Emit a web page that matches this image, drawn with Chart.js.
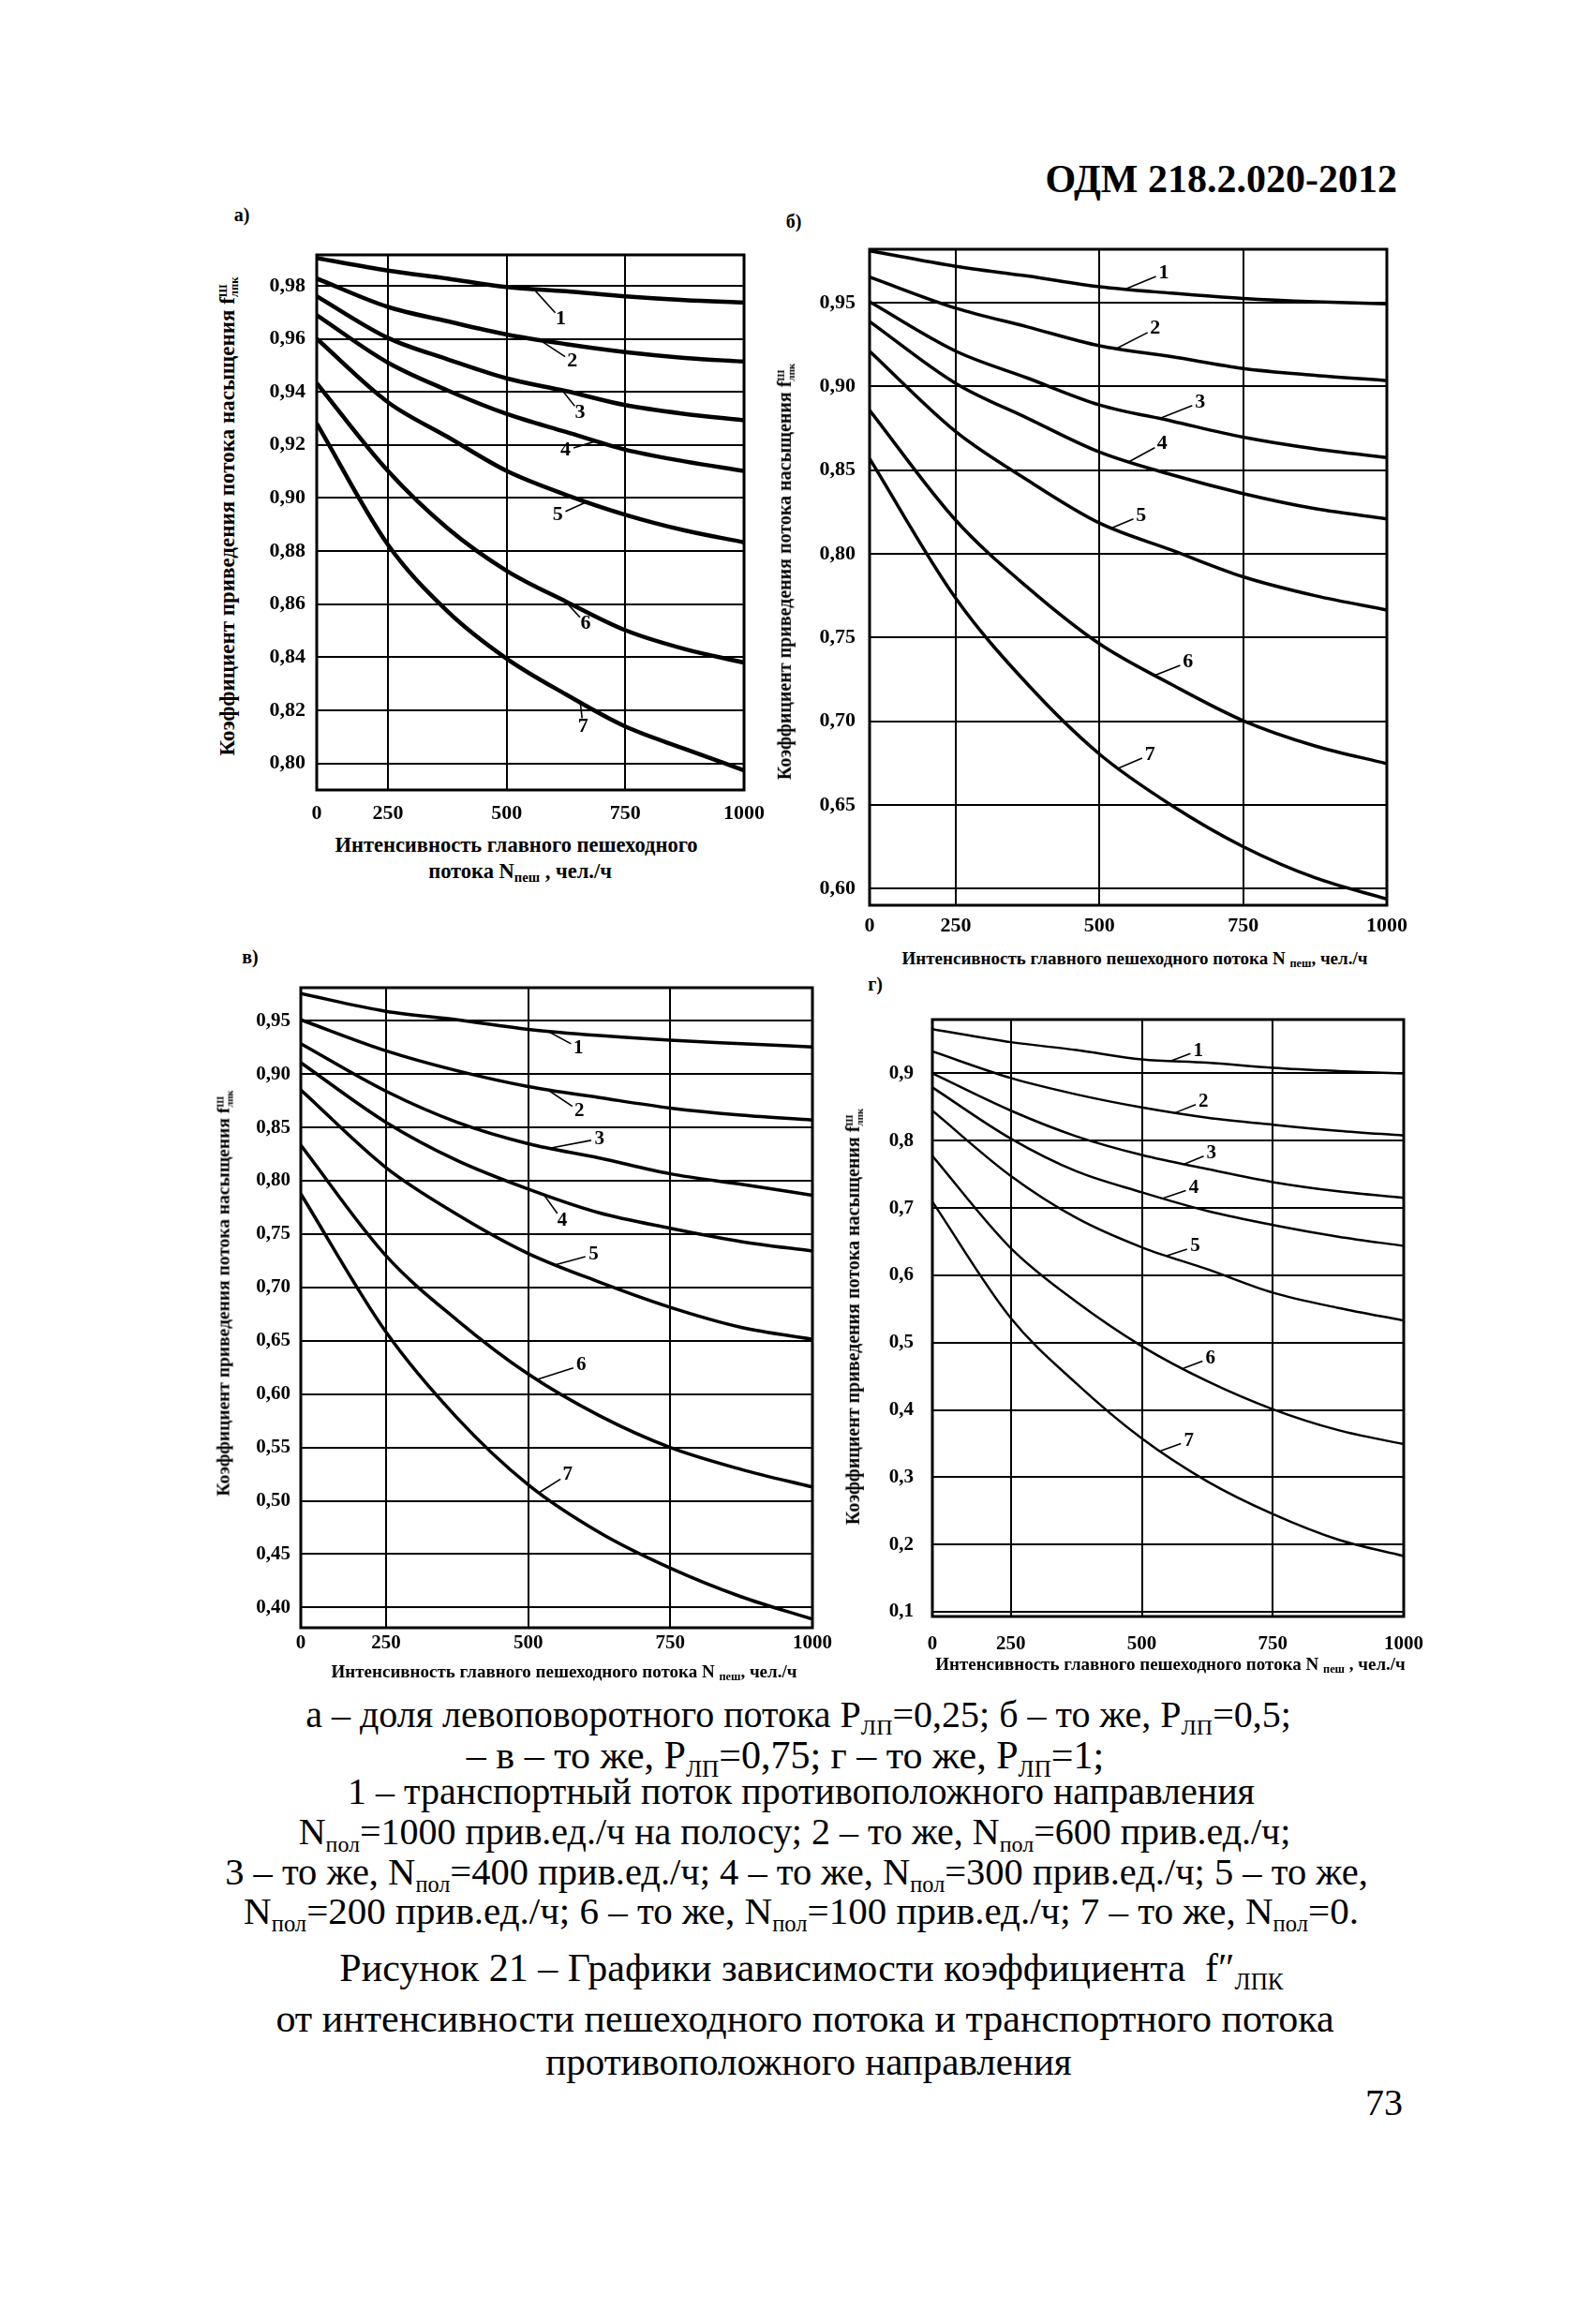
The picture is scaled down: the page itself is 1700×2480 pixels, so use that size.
<!DOCTYPE html>
<html>
<head>
<meta charset="utf-8">
<script src="https://cdn.jsdelivr.net/npm/chart.js@4.4.1/dist/chart.umd.min.js"></script>
<style>
  body { margin: 0; background: #fff; width: 1700px; height: 2480px; position: relative; color: #000; font-family: "Liberation Serif", serif; }
  .box { position: absolute; }
  .t { position: absolute; white-space: nowrap; line-height: 1; transform: translate(-50%, -50%); }
  .b { font-weight: bold; }
  .rot { transform: translate(-50%, -50%) rotate(-90deg); }
  .cap { font-size: 40px; }
  .cap sub { font-size: 0.6em; vertical-align: -0.35em; line-height: 0; }
  .ax sub { font-size: 0.65em; vertical-align: -0.3em; line-height: 0; }
  .fs { display: inline-block; vertical-align: -0.35em; font-size: 0.55em; line-height: 0.95; text-align: left; }
</style>
</head>
<body>

<div class="t b" style="left:1491px;top:191px;font-size:42px;transform:translate(-100%,-50%)">ОДМ 218.2.020-2012</div>

<div class="t b" style="left:258px;top:229px;font-size:20px">а)</div>
<div class="t b" style="left:847px;top:236px;font-size:20px">б)</div>
<div class="t b" style="left:267px;top:1021px;font-size:20px">в)</div>
<div class="t b" style="left:934px;top:1050px;font-size:20px">г)</div>

<div class="box" id="wa"><canvas id="ca"></canvas></div>
<div class="box" id="wb"><canvas id="cb"></canvas></div>
<div class="box" id="wc"><canvas id="cc"></canvas></div>
<div class="box" id="wd"><canvas id="cd"></canvas></div>

<div class="t b ax rot" style="left:244px;top:551px;font-size:23px">Коэффициент приведения потока насыщения f<span class="fs">Ш<br>лпк</span></div>
<div class="t b ax rot" style="left:838px;top:610px;font-size:20px">Коэффициент приведения потока насыщения f<span class="fs">Ш<br>лпк</span></div>
<div class="t b ax rot" style="left:239px;top:1380px;font-size:19.5px">Коэффициент приведения потока насыщения f<span class="fs">Ш<br>лпк</span></div>
<div class="t b ax rot" style="left:911px;top:1405px;font-size:20px">Коэффициент приведения потока насыщения f<span class="fs">Ш<br>лпк</span></div>

<div class="t b ax" style="left:551px;top:902px;font-size:22.5px">Интенсивность главного пешеходного</div>
<div class="t b ax" style="left:555px;top:930px;font-size:22.5px">потока N<sub>пеш</sub> , чел./ч</div>
<div class="t b ax" style="left:1211px;top:1022px;font-size:19px">Интенсивность главного пешеходного потока N <sub>пеш</sub>, чел./ч</div>
<div class="t b ax" style="left:602px;top:1783px;font-size:19px">Интенсивность главного пешеходного потока N <sub>пеш</sub>, чел./ч</div>
<div class="t b ax" style="left:1249px;top:1775px;font-size:19px">Интенсивность главного пешеходного потока N <sub>пеш</sub> , чел./ч</div>

<div class="t cap" style="left:852px;top:1830px">а – доля левоповоротного потока P<sub>ЛП</sub>=0,25; б – то же, P<sub>ЛП</sub>=0,5;</div>
<div class="t cap" style="left:838px;top:1873px;font-size:42px">– в – то же, P<sub>ЛП</sub>=0,75; г – то же, P<sub>ЛП</sub>=1;</div>
<div class="t cap" style="left:855px;top:1912px">1 – транспортный поток противоположного направления</div>
<div class="t cap" style="left:848px;top:1955px">N<sub>пол</sub>=1000 прив.ед./ч на полосу; 2 – то же, N<sub>пол</sub>=600 прив.ед./ч;</div>
<div class="t cap" style="left:850px;top:1998px;font-size:40.5px">3 – то же, N<sub>пол</sub>=400 прив.ед./ч; 4 – то же, N<sub>пол</sub>=300 прив.ед./ч; 5 – то же,</div>
<div class="t cap" style="left:855px;top:2039px;font-size:41px">N<sub>пол</sub>=200 прив.ед./ч; 6 – то же, N<sub>пол</sub>=100 прив.ед./ч; 7 – то же, N<sub>пол</sub>=0.</div>
<div class="t cap" style="left:866px;top:2100px;font-size:42px">Рисунок 21 – Графики зависимости коэффициента&nbsp; f″<sub>ЛПК</sub></div>
<div class="t cap" style="left:859px;top:2154px;font-size:42px">от интенсивности пешеходного потока и транспортного потока</div>
<div class="t cap" style="left:863px;top:2200px;font-size:41px">противоположного направления</div>
<div class="t cap" style="left:1497px;top:2244px;transform:translate(-100%,-50%)">73</div>

<script>
// pedestrian flow N пеш, чел./ч (left edge of each grid sits at ~100 but is labelled 0)
var xVals = [100, 250, 375, 500, 625, 750, 875, 1000];
var xTicks = [100, 250, 500, 750, 1000];

// а) Pлп = 0,25 ; curves 1..7
var curvesA = [
  [0.9904, 0.9857, 0.9827, 0.9795, 0.9779, 0.9760, 0.9746, 0.9737],
  [0.9827, 0.9720, 0.9666, 0.9616, 0.9580, 0.9550, 0.9528, 0.9514],
  [0.9760, 0.9603, 0.9523, 0.9451, 0.9403, 0.9350, 0.9317, 0.9293],
  [0.9689, 0.9510, 0.9406, 0.9317, 0.9249, 0.9182, 0.9138, 0.9102],
  [0.9600, 0.9361, 0.9231, 0.9102, 0.9012, 0.8937, 0.8878, 0.8833],
  [0.9433, 0.9102, 0.8887, 0.8726, 0.8610, 0.8502, 0.8431, 0.8380],
  [0.9281, 0.8824, 0.8574, 0.8395, 0.8260, 0.8139, 0.8055, 0.7974]
];
var yTicksA = [0.80, 0.82, 0.84, 0.86, 0.88, 0.90, 0.92, 0.94, 0.96, 0.98];

// б) Pлп = 0,5
var curvesB = [
  [0.9811, 0.9718, 0.9660, 0.9596, 0.9558, 0.9526, 0.9506, 0.9494],
  [0.9654, 0.9468, 0.9356, 0.9243, 0.9179, 0.9108, 0.9067, 0.9035],
  [0.9506, 0.9211, 0.9050, 0.8890, 0.8794, 0.8697, 0.8627, 0.8575],
  [0.9388, 0.9018, 0.8810, 0.8608, 0.8473, 0.8360, 0.8270, 0.8209],
  [0.9211, 0.8730, 0.8440, 0.8184, 0.8023, 0.7863, 0.7750, 0.7664],
  [0.8858, 0.8200, 0.7799, 0.7462, 0.7220, 0.7003, 0.6852, 0.6746],
  [0.8569, 0.7734, 0.7220, 0.6803, 0.6498, 0.6250, 0.6064, 0.5937]
];
var yTicksB = [0.60, 0.65, 0.70, 0.75, 0.80, 0.85, 0.90, 0.95];

// в) Pлп = 0,75
var curvesC = [
  [0.9755, 0.9589, 0.9509, 0.9420, 0.9361, 0.9317, 0.9285, 0.9254],
  [0.9509, 0.9218, 0.9031, 0.8883, 0.8780, 0.8682, 0.8615, 0.8570],
  [0.9285, 0.8839, 0.8548, 0.8347, 0.8213, 0.8065, 0.7967, 0.7864],
  [0.9107, 0.8548, 0.8190, 0.7922, 0.7699, 0.7555, 0.7430, 0.7341],
  [0.8852, 0.8123, 0.7685, 0.7319, 0.7051, 0.6814, 0.6626, 0.6514],
  [0.8333, 0.7296, 0.6693, 0.6188, 0.5799, 0.5500, 0.5294, 0.5129],
  [0.7877, 0.6581, 0.5777, 0.5151, 0.4704, 0.4369, 0.4100, 0.3890]
];
var yTicksC = [0.40, 0.45, 0.50, 0.55, 0.60, 0.65, 0.70, 0.75, 0.80, 0.85, 0.90, 0.95];

// г) Pлп = 1
var curvesD = [
  [0.9658, 0.9464, 0.9347, 0.9208, 0.9159, 0.9083, 0.9035, 0.9000],
  [0.9326, 0.8931, 0.8688, 0.8494, 0.8342, 0.8238, 0.8148, 0.8078],
  [0.9000, 0.8446, 0.8065, 0.7787, 0.7579, 0.7385, 0.7247, 0.7150],
  [0.8792, 0.8030, 0.7545, 0.7233, 0.6956, 0.6748, 0.6574, 0.6436],
  [0.8446, 0.7475, 0.6852, 0.6415, 0.6090, 0.5743, 0.5515, 0.5328],
  [0.7773, 0.6401, 0.5604, 0.4946, 0.4426, 0.4010, 0.3699, 0.3491],
  [0.7094, 0.5362, 0.4392, 0.3574, 0.2937, 0.2452, 0.2071, 0.1828]
];
var yTicksD = [0.1, 0.2, 0.3, 0.4, 0.5, 0.6, 0.7, 0.8, 0.9];

// where the numbered leader of each curve starts (N пеш)
var labelAtA = [557, 569, 617, 689, 669, 623, 655];
var labelAtB = [545, 530, 605, 552, 522, 597, 534];
var labelAtC = [534, 534, 538, 527, 549, 516, 520];
var labelAtD = [556, 564, 581, 540, 548, 579, 536];

Chart.defaults.font.family = '"Liberation Serif", serif';
Chart.defaults.font.weight = 'bold';
Chart.defaults.color = '#000';

var AXW = 80, PADT = 45, PADR = 40, AXH = 44;

function curveAt(c, x) {
  for (var j = 0; j < xVals.length - 1; j++) {
    if (x <= xVals[j + 1]) {
      var t = (x - xVals[j]) / (xVals[j + 1] - xVals[j]);
      return c[j] + t * (c[j + 1] - c[j]);
    }
  }
  return c[c.length - 1];
}

function makeChart(key, rect, curves, yMin, yMax, yTicks, dec, labelAt, offs, lineW, yPad, xPad, fsize) {
  var w = rect[2] - rect[0] + AXW + PADR;
  var h = rect[3] - rect[1] + PADT + AXH;
  var wrap = document.getElementById('w' + key);
  wrap.style.left = (rect[0] - AXW) + 'px';
  wrap.style.top = (rect[1] - PADT) + 'px';
  var cv = document.getElementById('c' + key);
  cv.width = w; cv.height = h;

  var frame = {
    id: 'frame',
    afterDatasetsDraw: function (chart) {
      var a = chart.chartArea, ctx = chart.ctx;
      ctx.save();
      ctx.strokeStyle = '#000';
      ctx.lineWidth = 3;
      ctx.strokeRect(a.left, a.top, a.right - a.left, a.bottom - a.top);
      ctx.restore();
    }
  };

  var numbers = {
    id: 'numbers',
    afterDatasetsDraw: function (chart) {
      var ctx = chart.ctx, xs = chart.scales.x, ys = chart.scales.y;
      ctx.save();
      ctx.strokeStyle = '#000';
      ctx.fillStyle = '#000';
      ctx.lineWidth = 1.6;
      ctx.font = 'bold ' + fsize + 'px "Liberation Serif", serif';
      ctx.textAlign = 'center';
      ctx.textBaseline = 'middle';
      curves.forEach(function (c, i) {
        var px = xs.getPixelForValue(labelAt[i]);
        var py = ys.getPixelForValue(curveAt(c, labelAt[i]));
        var dx = offs[i][0], dy = offs[i][1];
        var len = Math.sqrt(dx * dx + dy * dy);
        var ex = px + dx - dx / len * 9, ey = py + dy - dy / len * 9;
        ctx.beginPath();
        ctx.moveTo(px, py);
        ctx.lineTo(ex, ey);
        ctx.stroke();
        ctx.fillText(String(i + 1), px + dx, py + dy);
      });
      ctx.restore();
    }
  };

  new Chart(cv, {
    type: 'line',
    data: {
      datasets: curves.map(function (c, i) {
        return {
          label: String(i + 1),
          data: xVals.map(function (x, j) { return { x: x, y: c[j] }; }),
          borderColor: '#000',
          borderWidth: lineW,
          pointRadius: 0,
          cubicInterpolationMode: 'monotone',
          fill: false
        };
      })
    },
    options: {
      responsive: false,
      animation: false,
      layout: { autoPadding: false, padding: { top: PADT, right: PADR, left: 0, bottom: 0 } },
      plugins: { legend: { display: false }, tooltip: { enabled: false } },
      scales: {
        x: {
          type: 'linear', min: 100, max: 1000,
          afterBuildTicks: function (ax) { ax.ticks = xTicks.map(function (v) { return { value: v }; }); },
          afterFit: function (ax) { ax.height = AXH; },
          ticks: {
            padding: xPad, maxRotation: 0, autoSkip: false, font: { size: fsize },
            callback: function (v) { return v === 100 ? '0' : String(v); }
          },
          grid: { color: '#000', lineWidth: 2, drawTicks: false },
          border: { display: false }
        },
        y: {
          type: 'linear', min: yMin, max: yMax,
          afterBuildTicks: function (ax) { ax.ticks = yTicks.map(function (v) { return { value: v }; }); },
          afterFit: function (ax) { ax.width = AXW; },
          ticks: {
            padding: yPad, autoSkip: false, font: { size: fsize },
            callback: function (v) { return v.toFixed(dec).replace('.', ','); }
          },
          grid: { color: '#000', lineWidth: 2, drawTicks: false },
          border: { display: false }
        }
      }
    },
    plugins: [frame, numbers]
  });
}

makeChart('a', [338, 272, 794, 843], curvesA, 0.790, 0.9916, yTicksA, 2, labelAtA,
  [[29, 32], [35, 23], [19, 24], [-33, 10], [-31, 14], [22, 24], [3, 26]], 4.5, 12, 12, 22);
makeChart('b', [928, 266, 1480, 966], curvesB, 0.590, 0.982, yTicksB, 2, labelAtB,
  [[41, -17], [41, -21], [43, -17], [35, -19], [31, -13], [35, -14], [33, -14]], 3.5, 15, 9, 22);
makeChart('c', [321, 1054, 867, 1737], curvesC, 0.381, 0.981, yTicksC, 2, labelAtC,
  [[33, 18], [34, 23], [53, -10], [20, 28], [40, -11], [47, -15], [30, -19]], 3.5, 11, 4, 21);
makeChart('d', [995, 1088, 1498, 1725], curvesD, 0.093, 0.980, yTicksD, 1, labelAtD,
  [[29, -11], [30, -12], [29, -12], [33, -11], [30, -10], [29, -11], [30, -11]], 2.5, 20, 17, 21);
</script>
</body>
</html>
